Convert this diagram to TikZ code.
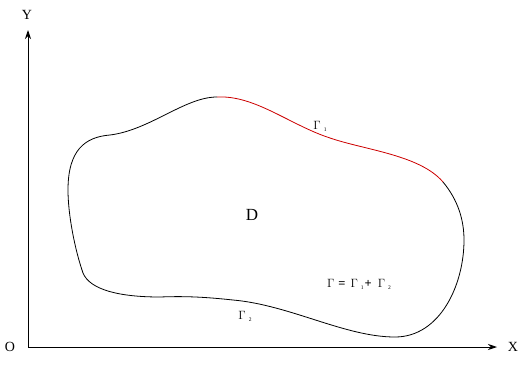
\documentclass[tikz,border=0pt]{standalone}
\usepackage{fontspec}
\setmainfont{Liberation Serif}
\usetikzlibrary{arrows.meta}
\newcommand{\gsub}[1]{\raisebox{-2pt}{\fontsize{5.5}{5.5}\selectfont\hspace{3pt}#1}}
\begin{document}
\begin{tikzpicture}[x=1pt,y=-1pt,
  axis/.style={line width=0.9pt,-{Stealth[length=9pt,width=6pt]}},
  bound/.style={line width=0.8pt},
  lbl/.style={inner sep=0pt,font=\fontsize{14}{14}\selectfont},
  dlbl/.style={inner sep=0pt,font=\fontsize{17}{17}\selectfont},
  glbl/.style={inner sep=0pt,font=\fontsize{12.5}{12.5}\selectfont}]
\useasboundingbox (0,0) rectangle (524,383);
\coordinate (O) at (28,347);
\coordinate (Ytip) at (28,30);
\coordinate (Xtip) at (497,347);
\draw[axis] (O) -- (Ytip);
\draw[axis] (O) -- (Xtip);
\node[lbl] (Ol) at (10,347) {O};
\node[lbl] (Yl) at (27,15) {Y};
\node[lbl] (Xl) at (513,347) {X};
% boundary
\coordinate (A) at (217,97);
\coordinate (B) at (330,138);
\coordinate (C) at (443,182);
\draw[bound, red!80!black] (A) .. controls (255,95) and (290,125) .. (B)
  .. controls (365,150) and (420,155) .. (C);
\draw[bound] (C) .. controls (458,200) and (464,220) .. (464,240)
  .. controls (464,285) and (440,337) .. (395,337)
  .. controls (345,337) and (290,305) .. (233,300)
  .. controls (205,297) and (185,296) .. (160,297)
  .. controls (120,297) and (90,290) .. (83,273)
  .. controls (75,250) and (68,215) .. (68,190)
  .. controls (68,150) and (85,137) .. (110,135)
  .. controls (150,130) and (185,97) .. (A);
\node[dlbl] (D) at (252,215) {D};
\node[glbl] (G1) at (320,126) {$\Gamma$\gsub{1}};
\node[glbl] (G2) at (245,316) {$\Gamma$\gsub{2}};
\node[glbl] (G) at (359,284) {$\Gamma$\hspace{4pt}\textbf{=}\hspace{5pt}$\Gamma$\gsub{1}\hspace{1pt}\textbf{+}\hspace{6pt}$\Gamma$\gsub{2}};
\end{tikzpicture}
\end{document}
